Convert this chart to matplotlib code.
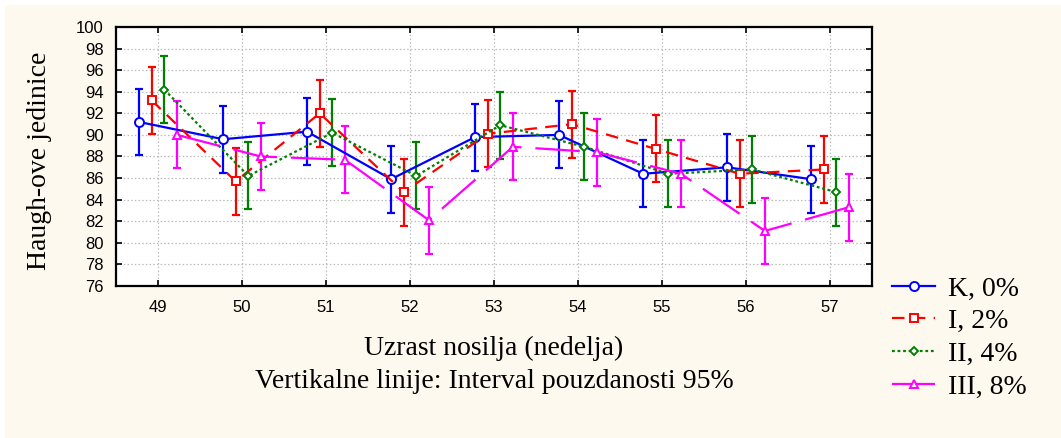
import matplotlib
matplotlib.use("Agg")
from matplotlib import pyplot as plt
from matplotlib.patches import Rectangle

plt.rcParams['lines.scale_dashes'] = False

weeks = [49, 50, 51, 52, 53, 54, 55, 56, 57]

# srednje vrednosti (Haugh-ove jedinice)
k_mean = [91.2, 89.6, 90.3, 85.9, 89.8, 90.0, 86.4, 87.0, 85.9]
i_mean = [93.2, 85.7, 92.0, 84.7, 90.1, 91.0, 88.7, 86.4, 86.8]
ii_mean = [94.2, 86.2, 90.2, 86.2, 90.9, 88.9, 86.4, 86.8, 84.7]
iii_mean = [90.0, 88.0, 87.7, 82.1, 88.9, 88.4, 86.4, 81.1, 83.3]

# polovina intervala pouzdanosti 95%
k_ci = [3.1, 3.1, 3.1, 3.1, 3.1, 3.1, 3.1, 3.1, 3.1]
i_ci = [3.1, 3.1, 3.1, 3.1, 3.1, 3.1, 3.1, 3.1, 3.1]
ii_ci = [3.1, 3.1, 3.1, 3.1, 3.1, 3.1, 3.1, 3.1, 3.1]
iii_ci = [3.1, 3.1, 3.1, 3.1, 3.1, 3.1, 3.1, 3.1, 3.1]

labels = ['K, 0%', 'I, 2%', 'II, 4%', 'III, 8%']

series = [
    (k_mean, k_ci, -0.225, 'blue', '-', 'o', 6.5),
    (i_mean, i_ci, -0.075, 'red', (0, (9, 6)), 's', 6.0),
    (ii_mean, ii_ci, 0.075, 'green', (0, (2, 2)), 'D', 4.0),
    (iii_mean, iii_ci, 0.225, 'magenta', (0, (32, 10)), '^', 6.0),
]

fig = plt.figure(figsize=(10.61, 4.38), dpi=100, facecolor='white')
bg = Rectangle((5 / 1061, 0), 1, 433 / 438, transform=fig.transFigure,
               facecolor='#fef9ee', edgecolor='none', zorder=-10)
fig.patches.append(bg)

ax = fig.add_axes([116 / 1061, 1 - 286 / 438, (872 - 116) / 1061, (286 - 27) / 438])
ax.set_facecolor('white')

for (mean, ci, off, col, ls, mk, ms), lab in zip(series, labels):
    xs = [w + off for w in weeks]
    ax.errorbar(xs, mean, yerr=ci, fmt='none', ecolor=col, elinewidth=1.6,
                capsize=3, capthick=1.6, zorder=2)
    ax.plot(xs, mean, color=col, linestyle=ls, linewidth=1.6, marker=mk,
            markersize=ms, markerfacecolor='white', markeredgecolor=col,
            markeredgewidth=1.4, label=lab, zorder=3)

ax.set_xlim(48.5, 57.5)
ax.set_ylim(76, 100)
ax.set_xticks(weeks)
ax.set_yticks(range(76, 101, 2))
ax.grid(True, color='#b8b8b8', linestyle=':', linewidth=0.9)
ax.set_axisbelow(True)
for s in ax.spines.values():
    s.set_linewidth(1.6)
ax.tick_params(direction='in', length=4, width=1.2, top=True, right=True,
               labelsize=12)
ax.tick_params(axis='y', pad=9)
ax.tick_params(axis='x', pad=10)
for t in ax.get_xticklabels() + ax.get_yticklabels():
    t.set_family('Liberation Sans')

serif = 'Liberation Serif'
cx = (116 + 872) / 2 / 1061
fig.text(cx, 1 - 348 / 438, 'Uzrast nosilja (nedelja)', ha='center', va='center',
         family=serif, fontsize=20)
fig.text(cx, 1 - 381 / 438, 'Vertikalne linije: Interval pouzdanosti 95%',
         ha='center', va='center', family=serif, fontsize=20)
fig.text(40 / 1061, 1 - 161 / 438, 'Haugh-ove jedinice', rotation=90,
         ha='center', va='center', family=serif, fontsize=20)

leg = fig.legend(loc='upper left', bbox_to_anchor=(892 / 1061, 1 - 276 / 438),
                 frameon=False, prop={'family': serif, 'size': 20},
                 handlelength=1.55, handletextpad=0.45, labelspacing=0.26,
                 borderaxespad=0, borderpad=0)

fig.savefig('out.png', dpi=100, facecolor=fig.get_facecolor())
